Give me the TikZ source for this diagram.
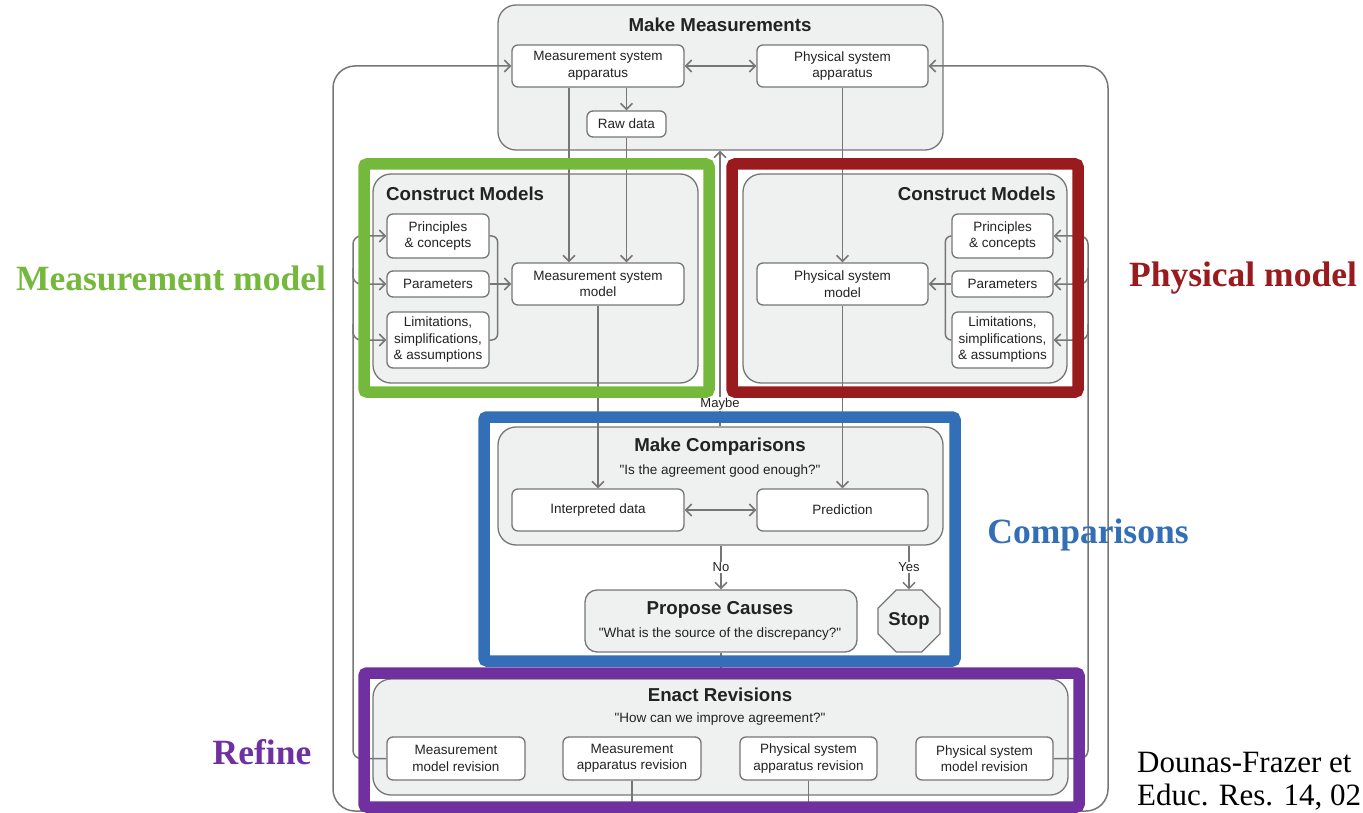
\documentclass[tikz,border=0pt]{standalone}
\usepackage{fontspec}
\newfontfamily\diagfont{Liberation Sans}
\newfontfamily\seriff{Liberation Serif}
\usetikzlibrary{arrows.meta,shapes.geometric}
\definecolor{lc}{HTML}{767676}
\definecolor{gfill}{HTML}{EFF0F0}
\definecolor{tc}{HTML}{222222}
\definecolor{fgreen}{HTML}{74B83C}
\definecolor{fred}{HTML}{9A1B1E}
\definecolor{fblue}{HTML}{336FB7}
\definecolor{fpurple}{HTML}{7030A0}
\tikzset{
  conn/.style={draw=lc, line width=1.5pt},
  arr/.style={conn, -{Straight Barb[length=6pt,width=12pt]}},
  darr/.style={conn, {Straight Barb[length=6pt,width=12pt]}-{Straight Barb[length=6pt,width=12pt]}},
  sbox/.style={draw=lc, fill=white, rounded corners=6pt, line width=1.3pt, align=center, inner sep=0pt, text=tc, font=\diagfont\fontsize{13.5}{16.5}\selectfont},
  gbox/.style={draw=lc, fill=gfill, rounded corners=18pt, line width=1.3pt, inner sep=0pt},
  ttl/.style={text=tc, font=\diagfont\bfseries\fontsize{18.7}{22}\selectfont, inner sep=0pt},
  sub/.style={text=tc, font=\diagfont\fontsize{13.5}{16}\selectfont, inner sep=0pt},
  lab/.style={text=tc, font=\diagfont\fontsize{13}{15}\selectfont, fill=white, inner sep=1pt},
  frame/.style={line width=11.5pt, rounded corners=3pt},
  big/.style={font=\seriff\bfseries\fontsize{35.5}{40}\selectfont, inner sep=0pt},
  cite/.style={font=\seriff\fontsize{31}{36}\selectfont, inner sep=0pt, anchor=west, text=black}
}
\begin{document}
\begin{tikzpicture}[x=1pt,y=-1pt]
\useasboundingbox (0,0) rectangle (1363,813);
% grey containers
\node[gbox, minimum width=445pt, minimum height=145pt] (mm) at (720.5,77.5) {};
\node[gbox, minimum width=325pt, minimum height=209pt] (lcm) at (535.5,278.5) {};
\node[gbox, minimum width=324pt, minimum height=209pt] (rcm) at (905,278.5) {};
\node[gbox, minimum width=445pt, minimum height=118pt] (mc) at (720.5,486) {};
\node[gbox, rounded corners=12pt, minimum width=272pt, minimum height=62pt] (pc) at (721,621) {};
\node[gbox, minimum width=695pt, minimum height=116pt] (er) at (720.5,737) {};
\node[draw=lc, fill=gfill, line width=1.3pt, regular polygon, regular polygon sides=8, minimum size=67pt, inner sep=0pt, text=tc, font=\diagfont\bfseries\fontsize{18.5}{20}\selectfont] (stop) at (909,621) {Stop};
% titles
\node[ttl] (t1) at (720,25) {Make Measurements};
\node[ttl, anchor=west] (t2) at (386,194) {Construct Models};
\node[ttl, anchor=east] (t3) at (1056,194) {Construct Models};
\node[ttl] (t4) at (720,447) {Make Comparisons};
\node[sub] (s4) at (720,471) {"Is the agreement good enough?"};
\node[ttl] (t5) at (720,610) {Propose Causes};
\node[sub] (s5) at (720,634) {"What is the source of the discrepancy?"};
\node[ttl] (t6) at (720,695) {Enact Revisions};
\node[sub] (s6) at (720,719) {"How can we improve agreement?"};
% small boxes
\node[sbox, minimum width=172pt, minimum height=42pt] (msa) at (598,66) {Measurement system\\apparatus};
\node[sbox, minimum width=171pt, minimum height=42pt] (psa) at (842.5,66) {Physical system\\apparatus};
\node[sbox, minimum width=79pt, minimum height=26pt] (raw) at (626.5,124) {Raw data};
\node[sbox, minimum width=102pt, minimum height=44pt] (lpc) at (438,236) {Principles\\\& concepts};
\node[sbox, minimum width=102pt, minimum height=26pt] (lpar) at (438,284) {Parameters};
\node[sbox, minimum width=102pt, minimum height=56pt] (llim) at (438,340) {Limitations,\\simplifications,\\\& assumptions};
\node[sbox, minimum width=172pt, minimum height=42pt] (msm) at (598,284) {Measurement system\\model};
\node[sbox, minimum width=101pt, minimum height=44pt] (rpc) at (1002.5,236) {Principles\\\& concepts};
\node[sbox, minimum width=101pt, minimum height=26pt] (rpar) at (1002.5,284) {Parameters};
\node[sbox, minimum width=101pt, minimum height=56pt] (rlim) at (1002.5,340) {Limitations,\\simplifications,\\\& assumptions};
\node[sbox, minimum width=171pt, minimum height=42pt] (psm) at (842.5,284) {Physical system\\model};
\node[sbox, minimum width=172pt, minimum height=42pt] (idata) at (598,510) {Interpreted data};
\node[sbox, minimum width=171pt, minimum height=42pt] (pred) at (842.5,510) {Prediction};
\node[sbox, minimum width=138pt, minimum height=43pt] (mmr) at (456,758.5) {Measurement\\model revision};
\node[sbox, minimum width=138pt, minimum height=43pt] (mar) at (632,758.5) {Measurement\\apparatus revision};
\node[sbox, minimum width=137pt, minimum height=43pt] (psar) at (808.5,758.5) {Physical system\\apparatus revision};
\node[sbox, minimum width=137pt, minimum height=43pt] (psmr) at (984.5,758.5) {Physical system\\model revision};
% loop coordinates
\coordinate (lob) at (333,811);
\coordinate (lot) at (333,66);
\coordinate (rob) at (1108,811);
\coordinate (rot) at (1108,66);
\coordinate (lib) at (353,758.5);
\coordinate (lit) at (353,236);
\coordinate (rib) at (1088,758.5);
\coordinate (rit) at (1088,236);
\coordinate (lbj) at (632,811);
\coordinate (rbj) at (808.5,811);
% outer loops
\draw[conn] (mar.south) -- (lbj);
\draw[conn] (psar.south) -- (rbj);
\draw[arr, rounded corners=22pt] (lbj) -- (lob) -- (lot) -- (msa.west);
\draw[arr, rounded corners=22pt] (rbj) -- (rob) -- (rot) -- (psa.east);
% inner loops
\draw[arr, rounded corners=8pt] (mmr.west) -- (lib) -- (lit) -- (lpc.west);
\draw[arr, rounded corners=8pt] ([yshift=16pt]lit |- lpar.west) -- (lit |- lpar.west) -- (lpar.west);
\draw[arr, rounded corners=8pt] ([yshift=16pt]lit |- llim.west) -- (lit |- llim.west) -- (llim.west);
\draw[arr, rounded corners=8pt] (psmr.east) -- (rib) -- (rit) -- (rpc.east);
\draw[arr, rounded corners=8pt] ([yshift=16pt]rit |- rpar.east) -- (rit |- rpar.east) -- (rpar.east);
\draw[arr, rounded corners=8pt] ([yshift=16pt]rit |- rlim.east) -- (rit |- rlim.east) -- (rlim.east);
% braces into models
\draw[conn, rounded corners=6pt] (lpc.east) -- ([xshift=8pt]lpc.east) -- ([xshift=8pt]lpar.east);
\draw[conn, rounded corners=6pt] (llim.east) -- ([xshift=8pt]llim.east) -- ([xshift=8pt]lpar.east);
\draw[arr] (lpar.east) -- (msm.west);
\draw[conn, rounded corners=6pt] (rpc.west) -- ([xshift=-6pt]rpc.west) -- ([xshift=-6pt]rpar.west);
\draw[conn, rounded corners=6pt] (rlim.west) -- ([xshift=-6pt]rlim.west) -- ([xshift=-6pt]rpar.west);
\draw[arr] (rpar.west) -- (psm.east);
% vertical flows
\draw[arr] ([xshift=-29pt]msa.south) -- ([xshift=-29pt]msm.north);
\draw[arr] (msa.south -| raw.north) -- (raw.north);
\draw[arr] (raw.south) -- (raw.south |- msm.north);
\draw[arr] (psa.south) -- (psm.north);
\draw[arr] (msm.south) -- (idata.north);
\draw[arr] (psm.south) -- (pred.north);
\draw[darr] (msa.east) -- (psa.west);
\draw[darr] (idata.east) -- (pred.west);
\draw[arr] (mc.north -| 720,0) -- (mm.south -| 720,0) node[lab, pos=0.08] {Maybe};
\draw[arr] (pc.north |- mc.south) -- (pc.north) node[lab, midway] {No};
\draw[arr] (stop.north |- mc.south) -- (stop.north) node[lab, midway] {Yes};
\draw[conn] (pc.south) -- (pc.south |- er.north);
% coloured frames
\draw[frame, fgreen] (364,164) rectangle (709,392);
\draw[frame, fred] (732,164) rectangle (1078,392);
\draw[frame, fblue] (484,417) rectangle (955,661);
\draw[frame, fpurple] (364,673) rectangle (1079,807);
% side labels
\node[big, text=fgreen] (lm) at (171,278) {Measurement model};
\node[big, text=fred] (lp) at (1243,278) {Physical model};
\node[big, text=fblue] (lc) at (1088,535) {Comparisons};
\node[big, text=fpurple] (lr) at (262,752) {Refine};
\node[cite] (c1) at (1137,762) {Dounas-Frazer et};
\node[cite] (c2) at (1137,797) {Educ. Res. 14, 02};
\end{tikzpicture}
\end{document}
